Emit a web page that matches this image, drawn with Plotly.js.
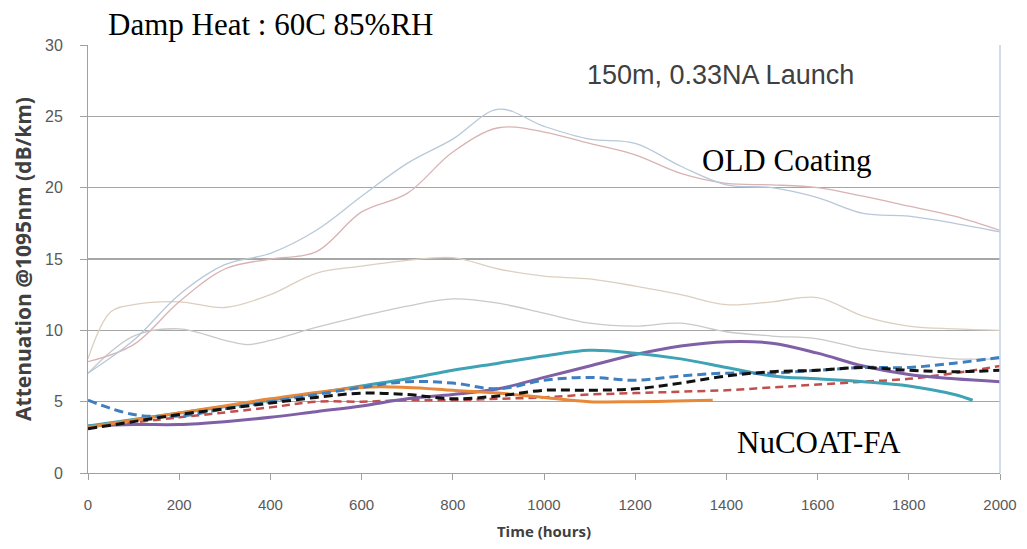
<!DOCTYPE html>
<html>
<head>
<meta charset="utf-8">
<script src="https://cdn.plot.ly/plotly-3.0.1.min.js"></script>
<style>html,body{margin:0;padding:0;background:#fff;}#chart{width:1027px;height:549px;}</style>
</head>
<body>
<div id="chart"></div>
<script>
// ---- Data (hours, attenuation dB/km) ----
const oldBlueX = [0,100,200,300,400,500,600,700,800,900,1000,1100,1200,1300,1400,1500,1600,1700,1800,1900,2000];
const oldBlueY = [7.0,9.3,12.5,14.6,15.4,17.0,19.4,21.7,23.4,25.5,24.3,23.4,23.1,21.5,20.2,20.0,19.3,18.2,18.0,17.5,16.9];

const oldPinkX = [0,100,200,300,400,500,600,700,800,900,1000,1100,1200,1300,1400,1500,1600,1700,1800,1900,2000];
const oldPinkY = [7.8,9.0,12.0,14.3,15.0,15.5,18.3,19.6,22.5,24.2,23.9,23.1,22.3,21.0,20.3,20.2,20.0,19.4,18.7,18.0,17.0];

const oldTanX = [0,50,100,200,300,400,500,600,700,800,900,1000,1100,1200,1300,1400,1500,1600,1700,1800,1900,2000];
const oldTanY = [8.0,11.3,11.8,12.0,11.6,12.5,14.0,14.5,14.9,15.1,14.3,13.8,13.6,13.1,12.5,11.8,12.0,12.3,11.0,10.3,10.1,10.0];

const oldGrayX = [0,100,200,300,350,400,500,600,700,800,900,1000,1100,1200,1300,1400,1500,1600,1700,1800,1900,2000];
const oldGrayY = [7.0,9.6,10.1,9.3,9.0,9.3,10.2,11.0,11.7,12.2,11.9,11.2,10.5,10.3,10.5,9.9,9.6,9.4,8.7,8.3,8.0,8.0];

const tealX = [0,200,400,600,700,800,900,1000,1100,1200,1300,1400,1500,1600,1700,1800,1900,1940];
const tealY = [3.3,4.2,5.1,6.1,6.6,7.2,7.7,8.2,8.6,8.4,8.0,7.4,6.8,6.6,6.4,6.1,5.5,5.1];

const purpleX = [0,100,200,300,400,500,600,700,800,900,1000,1100,1200,1300,1400,1500,1600,1700,1800,1900,2000];
const purpleY = [3.3,3.4,3.4,3.6,3.9,4.3,4.7,5.2,5.5,5.9,6.7,7.5,8.3,8.9,9.2,9.1,8.4,7.5,6.9,6.6,6.4];

const orangeX = [0,200,400,600,700,800,900,1000,1100,1200,1370];
const orangeY = [3.2,4.2,5.2,6.0,6.0,5.8,5.6,5.3,5.0,5.0,5.1];

const blueDashX = [0,100,200,300,400,500,600,700,800,900,1000,1100,1200,1300,1400,1500,1600,1700,1800,1900,2000];
const blueDashY = [5.1,4.1,4.0,4.5,5.0,5.5,6.0,6.4,6.3,5.9,6.5,6.7,6.5,6.8,7.0,7.0,7.2,7.4,7.4,7.7,8.1];

const blackDashX = [0,100,200,300,400,500,600,700,800,900,1000,1100,1200,1300,1400,1500,1600,1700,1800,1900,2000];
const blackDashY = [3.1,3.6,4.1,4.5,4.9,5.3,5.6,5.5,5.2,5.4,5.8,5.8,5.9,6.3,6.8,7.1,7.2,7.4,7.2,7.1,7.2];

const redDashX = [0,200,400,500,600,700,800,900,1000,1100,1200,1300,1400,1500,1600,1700,1800,1900,2000];
const redDashY = [3.2,3.9,4.6,5.0,5.0,5.1,5.1,5.2,5.3,5.5,5.6,5.7,5.8,6.0,6.2,6.4,6.6,7.0,7.5];

const xTicks = [0,200,400,600,800,1000,1200,1400,1600,1800,2000];
const yTicks = [0,5,10,15,20,25,30];

function tr(x, y, color, width, dash) {
  return {x: x, y: y, type: 'scatter', mode: 'lines',
    line: {color: color, width: width, dash: dash || 'solid', shape: 'spline', smoothing: 1},
    hoverinfo: 'skip', showlegend: false};
}

const data = [
  tr(oldGrayX, oldGrayY, '#c9c9c9', 1.3),
  tr(oldTanX, oldTanY, '#dccfbf', 1.3),
  tr(oldPinkX, oldPinkY, '#d9b3b3', 1.3),
  tr(oldBlueX, oldBlueY, '#b7c8da', 1.3),
  tr(redDashX, redDashY, '#c0504d', 2.5, '8px,5px'),
  tr(purpleX, purpleY, '#7f5fa5', 3),
  tr(tealX, tealY, '#3fa3b5', 3),
  tr(orangeX, orangeY, '#e8883a', 3),
  tr(blueDashX, blueDashY, '#3f7fbf', 3, '9px,5px'),
  tr(blackDashX, blackDashY, '#111111', 3, '9px,5px')
];

const layout = {
  width: 1027, height: 549,
  margin: {l: 88, r: 27, t: 45, b: 76},
  paper_bgcolor: '#ffffff', plot_bgcolor: '#ffffff',
  font: {family: 'Liberation Sans, Arial, sans-serif', color: '#595959'},
  xaxis: {
    range: [0, 2000], tickvals: xTicks, ticktext: xTicks.map(String),
    showgrid: false, zeroline: false,
    showline: true, linecolor: '#a0a0a0', linewidth: 1,
    ticks: 'outside', ticklen: 6, tickcolor: '#a0a0a0',
    ticklabelstandoff: 12,
    tickfont: {size: 15, color: '#595959', family: 'Liberation Sans Narrow, Liberation Sans, sans-serif'},
    title: {text: 'Time (hours)', font: {size: 15, color: '#404040', family: 'Open Sans, sans-serif', weight: 'bold'}, standoff: 14},
    fixedrange: true
  },
  yaxis: {
    range: [0, 30], tickvals: yTicks, ticktext: yTicks.map(String),
    showgrid: true, gridcolor: '#a6a6a6', gridwidth: 1.2,
    zeroline: false,
    showline: true, linecolor: '#a0a0a0', linewidth: 1,
    ticks: 'outside', ticklen: 7, tickcolor: '#a0a0a0',
    ticklabelstandoff: 14,
    tickfont: {size: 16, color: '#595959', family: 'Liberation Sans Narrow, Liberation Sans, sans-serif'},
    title: {text: 'Attenuation @1095nm (dB/km)', font: {size: 21, color: '#404040', family: 'Open Sans, sans-serif', weight: 'bold'}, standoff: 7},
    fixedrange: true
  },
  shapes: [
    {type: 'line', xref: 'paper', yref: 'paper', x0: 1, x1: 1, y0: 0, y1: 1,
     line: {color: '#c3d1e0', width: 1.5}}
  ],
  annotations: [
    {text: 'Damp Heat : 60C 85%RH', xref: 'paper', yref: 'paper', x: 0.02, y: 1.047,
     xanchor: 'left', yanchor: 'middle', showarrow: false,
     font: {family: 'Liberation Serif, serif', size: 31, color: '#000000'}},
    {text: '150m, 0.33NA Launch', xref: 'x', yref: 'y', x: 1388, y: 27.9,
     xanchor: 'center', yanchor: 'middle', showarrow: false,
     font: {family: 'Liberation Sans, sans-serif', size: 27, color: '#404040'}},
    {text: 'OLD Coating', xref: 'x', yref: 'y', x: 1533, y: 21.9,
     xanchor: 'center', yanchor: 'middle', showarrow: false,
     font: {family: 'Liberation Serif, serif', size: 31, color: '#000000'}},
    {text: 'NuCOAT-FA', xref: 'x', yref: 'y', x: 1603, y: 2.17,
     xanchor: 'center', yanchor: 'middle', showarrow: false,
     font: {family: 'Liberation Serif, serif', size: 31, color: '#000000'}}
  ]
};

Plotly.newPlot('chart', data, layout, {staticPlot: true, displayModeBar: false});
</script>
</body>
</html>
